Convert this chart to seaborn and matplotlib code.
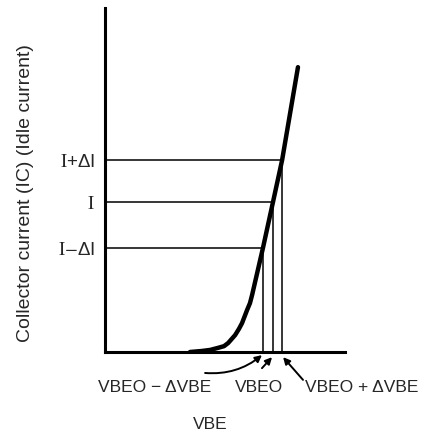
import numpy as np
import pandas as pd
import matplotlib
matplotlib.use("Agg")
import matplotlib.pyplot as plt
import seaborn as sns

# Transistor transfer curve (arbitrary units)
vbe_curve = [3.54, 4.04, 4.38, 4.71, 4.96, 5.13, 5.42, 5.58, 5.71, 5.92,
             6.04, 6.13, 6.58, 7.0, 7.38, 8.04]
ic_curve = [0.0, 0.03, 0.06, 0.12, 0.17, 0.26, 0.49, 0.67, 0.84, 1.22,
            1.42, 1.66, 3.02, 4.36, 5.58, 8.28]

# Operating points: (VBEO - dVBE, VBEO, VBEO + dVBE) -> (I - dI, I, I + dI)
vbe_levels = [6.58, 7.0, 7.38]
ic_levels = [3.02, 4.36, 5.58]
ic_labels = [r"$\mathrm{I}$$-$ΔI", r"$\mathrm{I}$", r"$\mathrm{I}$+ΔI"]
vbe_labels = ["VBEO − ΔVBE", "VBEO", "VBEO + ΔVBE"]

sns.set_style("white")
plt.rcParams["font.family"] = ["Liberation Sans", "DejaVu Sans"]
plt.rcParams["mathtext.fontset"] = "stix"

fig = plt.figure(figsize=(4.27, 4.33), dpi=100)
ax = fig.add_axes([105 / 427, 81 / 433, 240 / 427, 344 / 433])

curve = pd.DataFrame({"vbe": vbe_curve, "ic": ic_curve})
sns.lineplot(data=curve, x="vbe", y="ic", sort=False, color="black",
             linewidth=3.2, ax=ax, solid_capstyle="round",
             solid_joinstyle="round")

# guide lines from the axes to the curve
for v, i in zip(vbe_levels, ic_levels):
    ax.plot([0, v], [i, i], color="black", linewidth=1.1)
    ax.plot([v, v], [0, i], color="black", linewidth=1.1)

ax.set_xlim(0, 10)
ax.set_ylim(0, 10)
sns.despine(ax=ax)
for s in ["left", "bottom"]:
    ax.spines[s].set_linewidth(2.2)
    ax.spines[s].set_color("black")

ax.set_xticks([])
ax.set_yticks(ic_levels)
ax.set_yticklabels(ic_labels, fontsize=13.5)
ax.tick_params(axis="y", length=0, pad=7)

ax.set_xlabel("VBE", fontsize=12.5, va="center")
ax.xaxis.set_label_coords(0.4375, -0.212)
ax.set_ylabel("Collector current (IC) (Idle current)", fontsize=14,
              va="center")
ax.yaxis.set_label_coords(-0.333, 0.462)

# labels under the axis with arrows to the VBE points
text_x = [2.08, 6.42, 10.7]
arrow_from = [(4.17, -0.61), (6.54, -0.47), (8.25, -0.81)]
arrow_to = [(6.54, -0.09), (6.96, -0.15), (7.42, -0.15)]
bends = [0.2, 0.0, 0.0]
for lab, tx, a0, a1, rad in zip(vbe_labels, text_x, arrow_from, arrow_to, bends):
    ax.text(tx, -1.02, lab, ha="center", va="center", fontsize=12.5,
            clip_on=False)
    ax.annotate("", xy=a1, xytext=a0, annotation_clip=False,
                arrowprops=dict(arrowstyle="-|>", color="black", lw=1.4,
                                mutation_scale=10, shrinkA=0, shrinkB=0,
                                connectionstyle=f"arc3,rad={rad}"))

fig.savefig("out.png", dpi=100)
